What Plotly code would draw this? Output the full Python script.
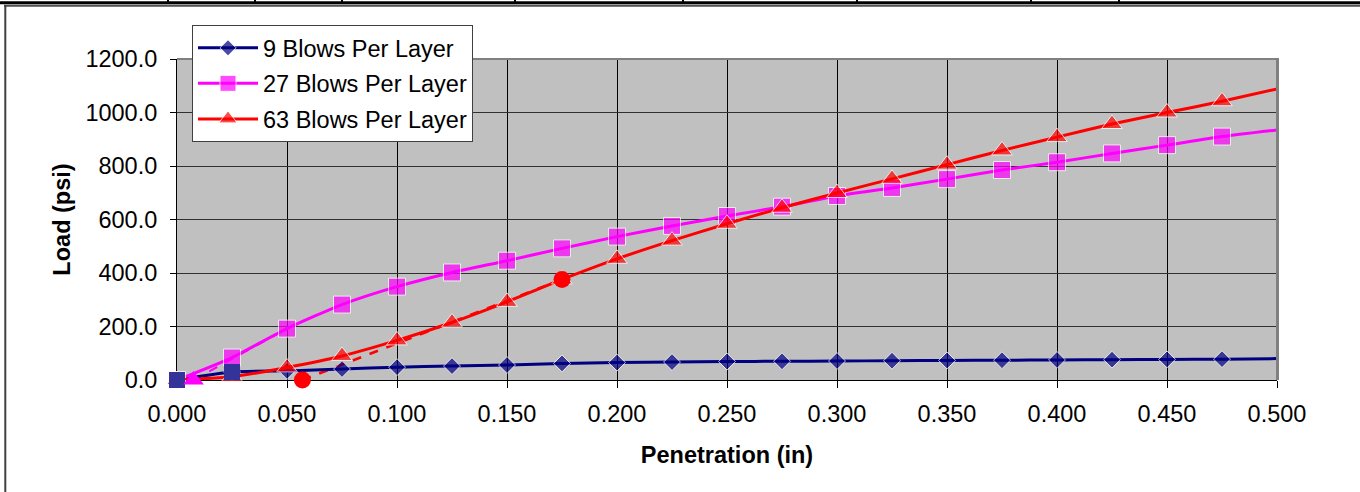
import plotly.graph_objects as go

# Penetration depths (in); the last value carries the line to the axis edge
penetration = [0.000, 0.025, 0.050, 0.075, 0.100, 0.125, 0.150, 0.175, 0.200,
               0.225, 0.250, 0.275, 0.300, 0.325, 0.350, 0.375, 0.400, 0.425,
               0.450, 0.475, 0.500]

blows_9 = [0, 30, 34, 41, 48, 52, 56, 62, 65, 67, 69, 70, 71, 72, 73, 74,
           75, 76, 77, 78, 80]
blows_27 = [0, 84, 192, 282, 349, 402, 446, 492, 536, 576, 613, 648, 688,
            718, 751, 785, 814, 847, 878, 910, 935]
blows_63 = [0, 12, 47, 90, 148, 215, 292, 376, 453, 521, 584, 644, 699,
            752, 805, 858, 908, 957, 1000, 1042, 1088]

# Corrected-origin construction points
zero_pts_x = [0.000, 0.025]
zero_pts_y = [0, 30]
origin_27_x = [0.0075]
origin_27_y = [0]
tangent_27_x = [0.0075, 0.050]
tangent_27_y = [0, 192]
tangent_63_x = [0.057, 0.175]
tangent_63_y = [0, 376]

series_names = ["9 Blows Per Layer", "27 Blows Per Layer", "63 Blows Per Layer"]
x_ticks = [0.0, 0.05, 0.1, 0.15, 0.2, 0.25, 0.3, 0.35, 0.4, 0.45, 0.5]
y_ticks = [0, 200, 400, 600, 800, 1000, 1200]

FONT = "Liberation Sans, Arial, sans-serif"
FS = 23.5

# Pixel geometry of the plot area inside the 1360x492 canvas
W, H = 1360, 492
L, R, T, B = 177, 1277, 59, 380


def px(xp):
    return (xp - L) / (R - L)


def py(yp):
    return (B - yp) / (B - T)


def sizes(n, s):
    # markers on every point but the trailing edge point
    return [s] * (n - 1) + [0]


fig = go.Figure()

n = len(penetration)

# construction lines (under the series)
fig.add_trace(go.Scatter(x=tangent_27_x, y=tangent_27_y, mode="lines",
                         line=dict(color="#FF00FF", width=2, dash="dash"),
                         showlegend=False, hoverinfo="skip"))
fig.add_trace(go.Scatter(x=tangent_63_x, y=tangent_63_y, mode="lines",
                         line=dict(color="#FF0000", width=2.5, dash="dash"),
                         showlegend=False, hoverinfo="skip"))

fig.add_trace(go.Scatter(
    x=penetration, y=blows_9, name=series_names[0], mode="lines+markers",
    line=dict(color="#000080", width=3, shape="spline", smoothing=0.6),
    marker=dict(symbol="diamond", size=sizes(n, 13), color="#000080"),
    legendgroup="a", cliponaxis=False))
fig.add_trace(go.Scatter(
    x=penetration, y=blows_27, name=series_names[1], mode="lines+markers",
    line=dict(color="#FF00FF", width=3, shape="spline", smoothing=0.6),
    marker=dict(symbol="square", size=sizes(n, 17), color="#FF00FF"),
    legendgroup="b", cliponaxis=False))
fig.add_trace(go.Scatter(
    x=penetration, y=blows_63, name=series_names[2], mode="lines+markers",
    line=dict(color="#FF0000", width=3, shape="spline", smoothing=0.6),
    marker=dict(symbol="triangle-up", size=sizes(n, 18), color="#FF0000"),
    legendgroup="c", cliponaxis=False))

# construction markers
fig.add_trace(go.Scatter(x=zero_pts_x, y=zero_pts_y, mode="markers",
                         marker=dict(symbol="square", size=16, color="#333399"),
                         showlegend=False, hoverinfo="skip", cliponaxis=False))
fig.add_trace(go.Scatter(x=origin_27_x, y=origin_27_y, mode="markers",
                         marker=dict(symbol="triangle-up", size=18, color="#FF00FF"),
                         showlegend=False, hoverinfo="skip", cliponaxis=False))
fig.add_trace(go.Scatter(x=tangent_63_x, y=tangent_63_y, mode="markers",
                         marker=dict(symbol="circle", size=17, color="#FF0000"),
                         showlegend=False, hoverinfo="skip", cliponaxis=False))

shapes = [
    # plot-area frame, top and right edges
    dict(type="line", xref="paper", yref="paper", x0=0, x1=px(R + 1),
         y0=1, y1=1, line=dict(color="#808080", width=2), layer="above"),
    dict(type="line", xref="paper", yref="paper", x0=px(R + 0.5), x1=px(R + 0.5),
         y0=0, y1=py(T - 1), line=dict(color="#808080", width=3), layer="above"),
    # outer chart border (top and left)
    dict(type="line", xref="paper", yref="paper", x0=px(4), x1=px(W),
         y0=py(5.7), y1=py(5.7), line=dict(color="#505050", width=2)),
    dict(type="line", xref="paper", yref="paper", x0=px(5.3), x1=px(5.3),
         y0=py(5), y1=py(H), line=dict(color="#404040", width=2)),
    # rule across the top of the page
    dict(type="line", xref="paper", yref="paper", x0=px(0), x1=px(W),
         y0=py(2.8), y1=py(2.8), line=dict(color="#000000", width=3)),
]
for tx in [168, 255, 342, 515, 683, 857, 1031, 1119]:
    shapes.append(dict(type="line", xref="paper", yref="paper",
                       x0=px(tx), x1=px(tx), y0=py(0), y1=py(3),
                       line=dict(color="#000000", width=2)))

fig.update_layout(
    width=W, height=H,
    margin=dict(l=L, r=W - R, t=T, b=H - B),
    paper_bgcolor="white", plot_bgcolor="#C0C0C0",
    font=dict(family=FONT, size=FS, color="#000000"),
    showlegend=True,
    legend=dict(x=px(192), y=py(25), xanchor="left", yanchor="top",
                bgcolor="white", bordercolor="#404040", borderwidth=1,
                font=dict(family=FONT, size=FS), traceorder="grouped",
                tracegroupgap=2, itemwidth=60),
    shapes=shapes,
)

fig.update_xaxes(
    range=[0, 0.5], tickvals=x_ticks, ticktext=[f"{v:.3f}" for v in x_ticks],
    showgrid=True, gridcolor="#000000", gridwidth=1,
    showline=True, linecolor="#000000", linewidth=1,
    ticks="outside", ticklen=7, tickcolor="#000000",
    ticklabelstandoff=6,
    zeroline=False, layer="below traces",
    title=dict(text="<b>Penetration (in)</b>", font=dict(family=FONT, size=FS),
               standoff=20),
)
fig.update_yaxes(
    range=[0, 1200], tickvals=y_ticks, ticktext=[f"{v:.1f}" for v in y_ticks],
    showgrid=True, gridcolor="#303030", gridwidth=1,
    showline=True, linecolor="#000000", linewidth=1,
    ticks="outside", ticklen=6, tickcolor="#000000",
    ticklabelstandoff=8,
    zeroline=False, layer="below traces",
    title=dict(text="<b>Load (psi)</b>", font=dict(family=FONT, size=FS),
               standoff=8),
)

fig.write_html("out.html")
